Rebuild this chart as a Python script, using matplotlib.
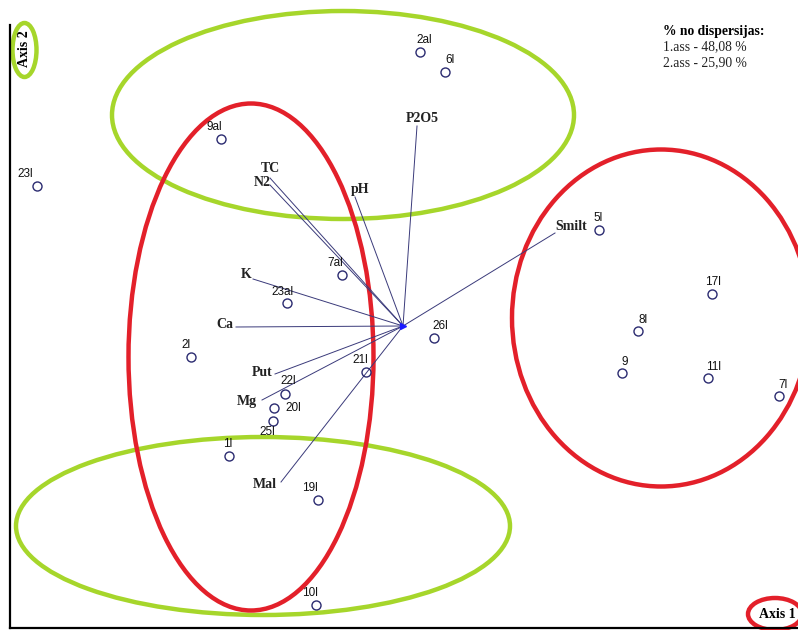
import matplotlib
matplotlib.use("Agg")
import matplotlib.pyplot as plt
import matplotlib.patches as patches

# sample scores (ordination plane, screen units)
samples = ["2al", "6l", "9al", "23l", "5l", "7al", "23al", "17l", "8l", "26l",
           "2l", "21l", "9", "11l", "7l", "22l", "20l", "25l", "1l", "19l", "10l"]
samp_x = [420, 445, 221, 37, 599, 342, 287, 712, 638, 434,
          191, 366, 622, 708, 779, 285, 274, 273, 229, 318, 316]
samp_y = [52, 72, 139, 186, 230, 275, 303, 294, 331, 338,
          357, 372, 373, 378, 396, 394, 408, 421, 456, 500, 605]

# environmental vectors
origin = (403, 326)
variables = ["P2O5", "TC", "N2", "pH", "K", "Ca", "Put", "Mg", "Mal", "Smilt"]
var_x = [417, 270, 270, 355, 253, 236, 275, 262, 281, 555]
var_y = [126, 178, 185, 197, 279, 327, 374, 400, 482, 233]

variance = [48.08, 25.90]

fig = plt.figure(figsize=(7.98, 6.30), dpi=100)
ax = fig.add_axes([0, 0, 1, 1])
ax.set_xlim(0, 798)
ax.set_ylim(630, 0)
ax.axis('off')

# axes frame
ax.plot([10, 10], [25, 628], color='black', lw=1.6)
ax.plot([10, 798], [628, 628], color='black', lw=1.6)

navy = '#2b2b70'

# vectors
for name, vx, vy in zip(variables, var_x, var_y):
    ax.plot([origin[0], vx], [origin[1], vy], color='#3a3a7a', lw=0.7)
ax.plot(*origin, marker='>', color='#1a1aff', ms=4)

# vector labels (offsets from line ends)
lab_dx = [5, 0, -8, 5, -7, -11, -13, -15, -16, 16]
lab_dy = [-7, -10, -2, -8, -4, -2, -1, 2, 3, -7]
for name, vx, vy, dx, dy in zip(variables, var_x, var_y, lab_dx, lab_dy):
    ax.text(vx + dx, vy + dy, name, family='Liberation Serif', weight='bold',
            fontsize=10, ha='center', va='center', color='#222222')

# samples
ax.plot(samp_x, samp_y, ls='none', marker='o', ms=6.5, mfc='none',
        mec=navy, mew=1.0)
s_dx = [4, 5, -7, -12, -1, -7, -4, 1, 5, 6, -5, -6, 3, 6, 4, 3, 19, -6, -1, -8, -6]
s_dy = [-12, -12, -12, -12, -12, -12, -11, -12, -11, -12, -12, -12, -11, -11, -11, -13, 0, 11, -12, -12, -12]
for name, x, y, dx, dy in zip(samples, samp_x, samp_y, s_dx, s_dy):
    ax.text(x + dx, y + dy, name, family='Liberation Sans', fontsize=8.5,
            ha='center', va='center', color='#111111')

# grouping ellipses
green = '#a6d62b'
red = '#e3202a'
ax.add_patch(patches.Ellipse((343, 115), 462, 208, fill=False, ec=green, lw=3.2))
ax.add_patch(patches.Ellipse((263, 526), 494, 178, fill=False, ec=green, lw=3.2))
ax.add_patch(patches.Ellipse((251, 357), 245, 507, fill=False, ec=red, lw=3.2))
ax.add_patch(patches.Ellipse((661, 318), 298, 337, fill=False, ec=red, lw=3.2))
ax.add_patch(patches.Ellipse((24.5, 50), 24, 54, fill=False, ec=green, lw=3.2))
ax.add_patch(patches.Ellipse((775, 614), 54, 32, fill=False, ec=red, lw=3.2))

ax.text(24.5, 49, "Axis 2", family='Liberation Serif', weight='bold',
        fontsize=10, rotation=90, ha='center', va='center')
ax.text(777, 614, "Axis 1", family='Liberation Serif', weight='bold',
        fontsize=10, ha='center', va='center')

# explained variance note
ax.text(663, 31, "% no dispersijas:", family='Liberation Serif', weight='bold',
        fontsize=9.8, ha='left', va='center')
for i, v in enumerate(variance):
    txt = f"{i + 1}.ass - " + f"{v:.2f}".replace('.', ',') + " %"
    ax.text(663, 47 + 15.5 * i, txt, family='Liberation Serif',
            fontsize=9.8, ha='left', va='center', color='#222222')

fig.savefig("out.png", dpi=100)
